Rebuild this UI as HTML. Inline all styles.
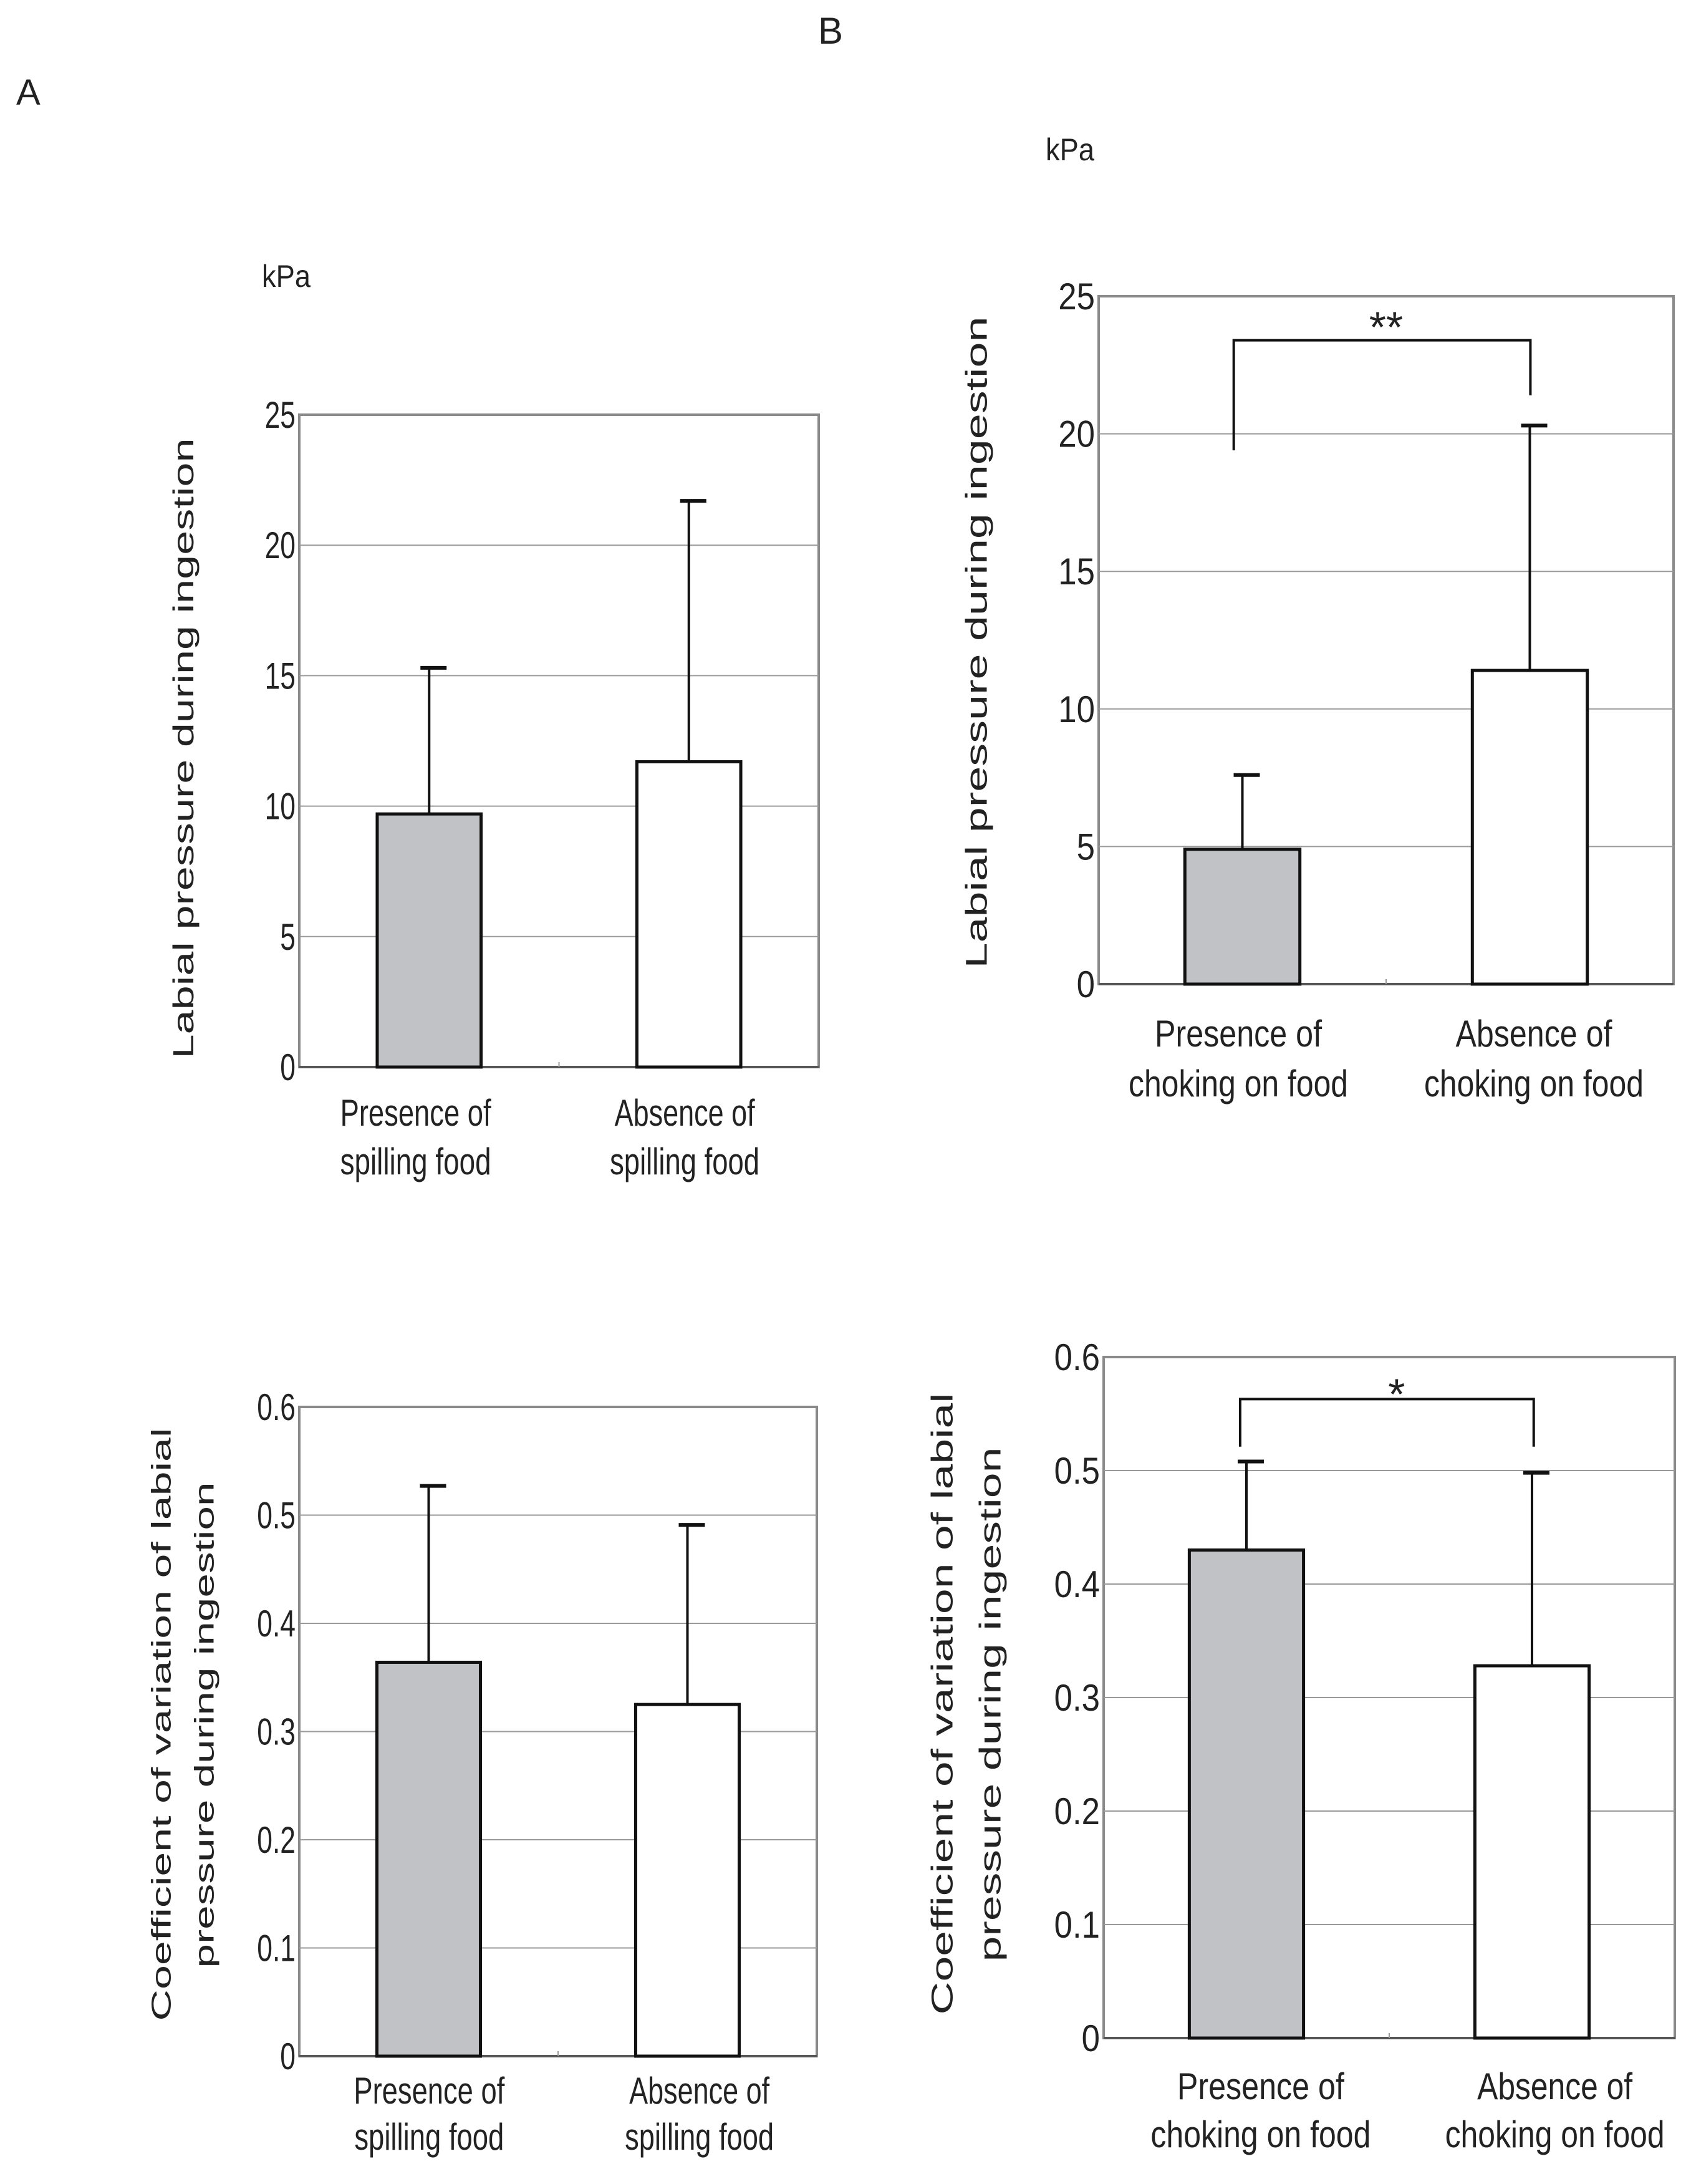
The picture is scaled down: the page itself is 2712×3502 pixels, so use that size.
<!DOCTYPE html>
<html><head><meta charset="utf-8"><style>
html,body{margin:0;padding:0;background:#fff;}
svg{display:block;font-family:"Liberation Sans",Arial,sans-serif;}
</style></head><body>
<svg id="fig" width="2712" height="3502" viewBox="0 0 2712 3502" xmlns="http://www.w3.org/2000/svg">
<rect x="0" y="0" width="2712" height="3502" fill="#fff"/>
<text x="26" y="168" font-size="58" fill="#222">A</text>
<text x="1312" y="70" font-size="60" fill="#222">B</text>
</svg>
<script>
// ---- data ----
const kpaTicks = [0, 5, 10, 15, 20, 25];
const kpaTickLabels = ["0", "5", "10", "15", "20", "25"];
const cvTicks = [0, 0.1, 0.2, 0.3, 0.4, 0.5, 0.6];
const cvTickLabels = ["0", "0.1", "0.2", "0.3", "0.4", "0.5", "0.6"];
const spillCategories = [["Presence of", "spilling food"], ["Absence of", "spilling food"]];
const chokeCategories = [["Presence of", "choking on food"], ["Absence of", "choking on food"]];
const spillPressureMeans = [9.7, 11.7];
const spillPressureSD = [5.6, 10.0];
const chokePressureMeans = [4.9, 11.4];
const chokePressureSD = [2.7, 8.9];
const spillCVMeans = [0.364, 0.325];
const spillCVSD = [0.163, 0.166];
const chokeCVMeans = [0.430, 0.328];
const chokeCVSD = [0.078, 0.170];
const chokePressureBracket = [19.4, 23.4, 21.4]; // left end, top, right end
const chokeCVBracket = [0.521, 0.563, 0.521];

const NS = "http://www.w3.org/2000/svg";
const svg = document.getElementById("fig");
function el(tag, attrs, parent) {
  const e = document.createElementNS(NS, tag);
  for (const k in attrs) e.setAttribute(k, attrs[k]);
  (parent || svg).appendChild(e);
  return e;
}

function drawChart(cfg, cats, means, sds, ticks, tickLabels, bracket) {
  const g = el("g", {});
  
  
  const W = cfg.right - cfg.left;
  const y = v => cfg.bottom - (v / cfg.max) * (cfg.bottom - cfg.top);
  const xc = i => cfg.left + W * (0.25 + 0.5 * i);
  const fr = el("rect", {x: cfg.left, y: cfg.top, width: W, height: cfg.bottom - cfg.top, fill: "none", stroke: "#8a8a8a", "stroke-width": 4}, g);
  
  
  ticks.forEach((t, i) => {
    if (t > 0 && t < cfg.max) {
      const gl = el("line", {x1: cfg.left, x2: cfg.right, y1: y(t), y2: y(t), stroke: "#9a9a9a", "stroke-width": 2}, g);
      
      
    }
    const tx = el("text", {x: 0, y: 0, "font-size": 60, fill: "#222", "text-anchor": "end",
      transform: `translate(${cfg.left - 6},${y(t) + 21}) scale(${cfg.tickSx},1)`}, g);
    tx.textContent = tickLabels[i];
    
    
  });
  const ax = el("line", {x1: cfg.left, x2: cfg.right, y1: cfg.bottom, y2: cfg.bottom, stroke: "#555", "stroke-width": 4}, g);
  
  
  el("line", {x1: cfg.left + W / 2, x2: cfg.left + W / 2, y1: cfg.bottom - 8, y2: cfg.bottom, stroke: "#999", "stroke-width": 2}, g);
  means.forEach((m, i) => {
    const bw = W * 0.2;
    const cx = xc(i);
    const et = y(m + sds[i]);
    const eb = el("line", {x1: cx, x2: cx, y1: y(m), y2: et, stroke: "#111", "stroke-width": 4}, g);
    
    
    const cap = el("line", {x1: cx - 14, x2: cx + 28, y1: et, y2: et, stroke: "#111", "stroke-width": 6}, g);
    
    
    const b = el("rect", {x: cx - bw / 2, y: y(m), width: bw, height: cfg.bottom - y(m),
      fill: i === 0 ? "#c1c2c5" : "#fff", stroke: "#111", "stroke-width": 5}, g);
    
    
    cats[i].forEach((line, j) => {
      const t = el("text", {x: cfg.left + W * cfg.labelFx[i], y: cfg.labelY[j] + 21, "font-size": 60, fill: "#222",
        "text-anchor": "middle", textLength: cfg.labelW[j][i], lengthAdjust: "spacingAndGlyphs"}, g);
      t.textContent = line;
      
      
    });
  });
  if (bracket) {
    const lx = cfg.left + W * cfg.brFx[0], rx = cfg.left + W * cfg.brFx[1];
    const p = el("polyline", {points: `${lx},${y(bracket[0])} ${lx},${y(bracket[1])} ${rx},${y(bracket[1])} ${rx},${y(bracket[2])}`,
      fill: "none", stroke: "#111", "stroke-width": 4}, g);
    
    
    const s = el("text", {x: cfg.left + W * cfg.starFx, y: y(cfg.starV) + 38, "font-size": 70, fill: "#222", "text-anchor": "middle"}, g);
    s.textContent = cfg.stars;
    
    
  }
  cfg.titles.forEach(tt => {
    const t = el("text", {x: 0, y: 0, "font-size": tt.fs, fill: "#222", "text-anchor": "middle", "dominant-baseline": "central",
      textLength: tt.len, lengthAdjust: "spacingAndGlyphs", transform: `translate(${tt.x},${tt.y}) rotate(-90)`}, g);
    t.textContent = tt.text;
    
    
  });
  if (cfg.unit) {
    const u = el("text", {x: cfg.unit[0], y: cfg.unit[1] + 17, "font-size": 50, fill: "#222", textLength: 78, lengthAdjust: "spacingAndGlyphs"}, g);
    u.textContent = "kPa";
    
    
  }
}

drawChart({name: "chart-a-pressure", left: 480, right: 1313, top: 665, bottom: 1711, max: 25, tickSx: 0.74,
  labelFx: [0.224, 0.742], labelY: [1784, 1862], labelW: [[242, 225], [242, 240]],
  titles: [{text: "Labial pressure during ingestion", x: 294, y: 1200, len: 995, fs: 46}], unit: [420, 443]},
  spillCategories, spillPressureMeans, spillPressureSD, kpaTicks, kpaTickLabels, null);

drawChart({name: "chart-b-pressure", left: 1762, right: 2684, top: 475, bottom: 1578, max: 25, tickSx: 0.88,
  labelFx: [0.243, 0.757], labelY: [1657, 1737], labelW: [[268, 251], [352, 352]],
  titles: [{text: "Labial pressure during ingestion", x: 1567, y: 1030, len: 1045, fs: 48}], unit: [1677, 240],
  brFx: [0.235, 0.751], starFx: 0.50, starV: 24.2, stars: "**"},
  chokeCategories, chokePressureMeans, chokePressureSD, kpaTicks, kpaTickLabels, chokePressureBracket);

drawChart({name: "chart-a-cv", left: 480, right: 1310, top: 2256, bottom: 3297, max: 0.6, tickSx: 0.74,
  labelFx: [0.251, 0.773], labelY: [3352, 3426], labelW: [[242, 225], [240, 239]],
  titles: [{text: "Coefficient of variation of labial", x: 259, y: 2765, len: 951, fs: 44},
           {text: "pressure during ingestion", x: 328, y: 2766, len: 779, fs: 44}]},
  spillCategories, spillCVMeans, spillCVSD, cvTicks, cvTickLabels, null);

drawChart({name: "chart-b-cv", left: 1770, right: 2686, top: 2176, bottom: 3268, max: 0.6, tickSx: 0.88,
  labelFx: [0.275, 0.79], labelY: [3345, 3422], labelW: [[268, 249], [353, 352]],
  titles: [{text: "Coefficient of variation of labial", x: 1512, y: 2732, len: 997, fs: 48},
           {text: "pressure during ingestion", x: 1589, y: 2733, len: 825, fs: 48}],
  brFx: [0.239, 0.753], starFx: 0.513, starV: 0.575, stars: "*"},
  chokeCategories, chokeCVMeans, chokeCVSD, cvTicks, cvTickLabels, chokeCVBracket);
</script>
</body></html>
